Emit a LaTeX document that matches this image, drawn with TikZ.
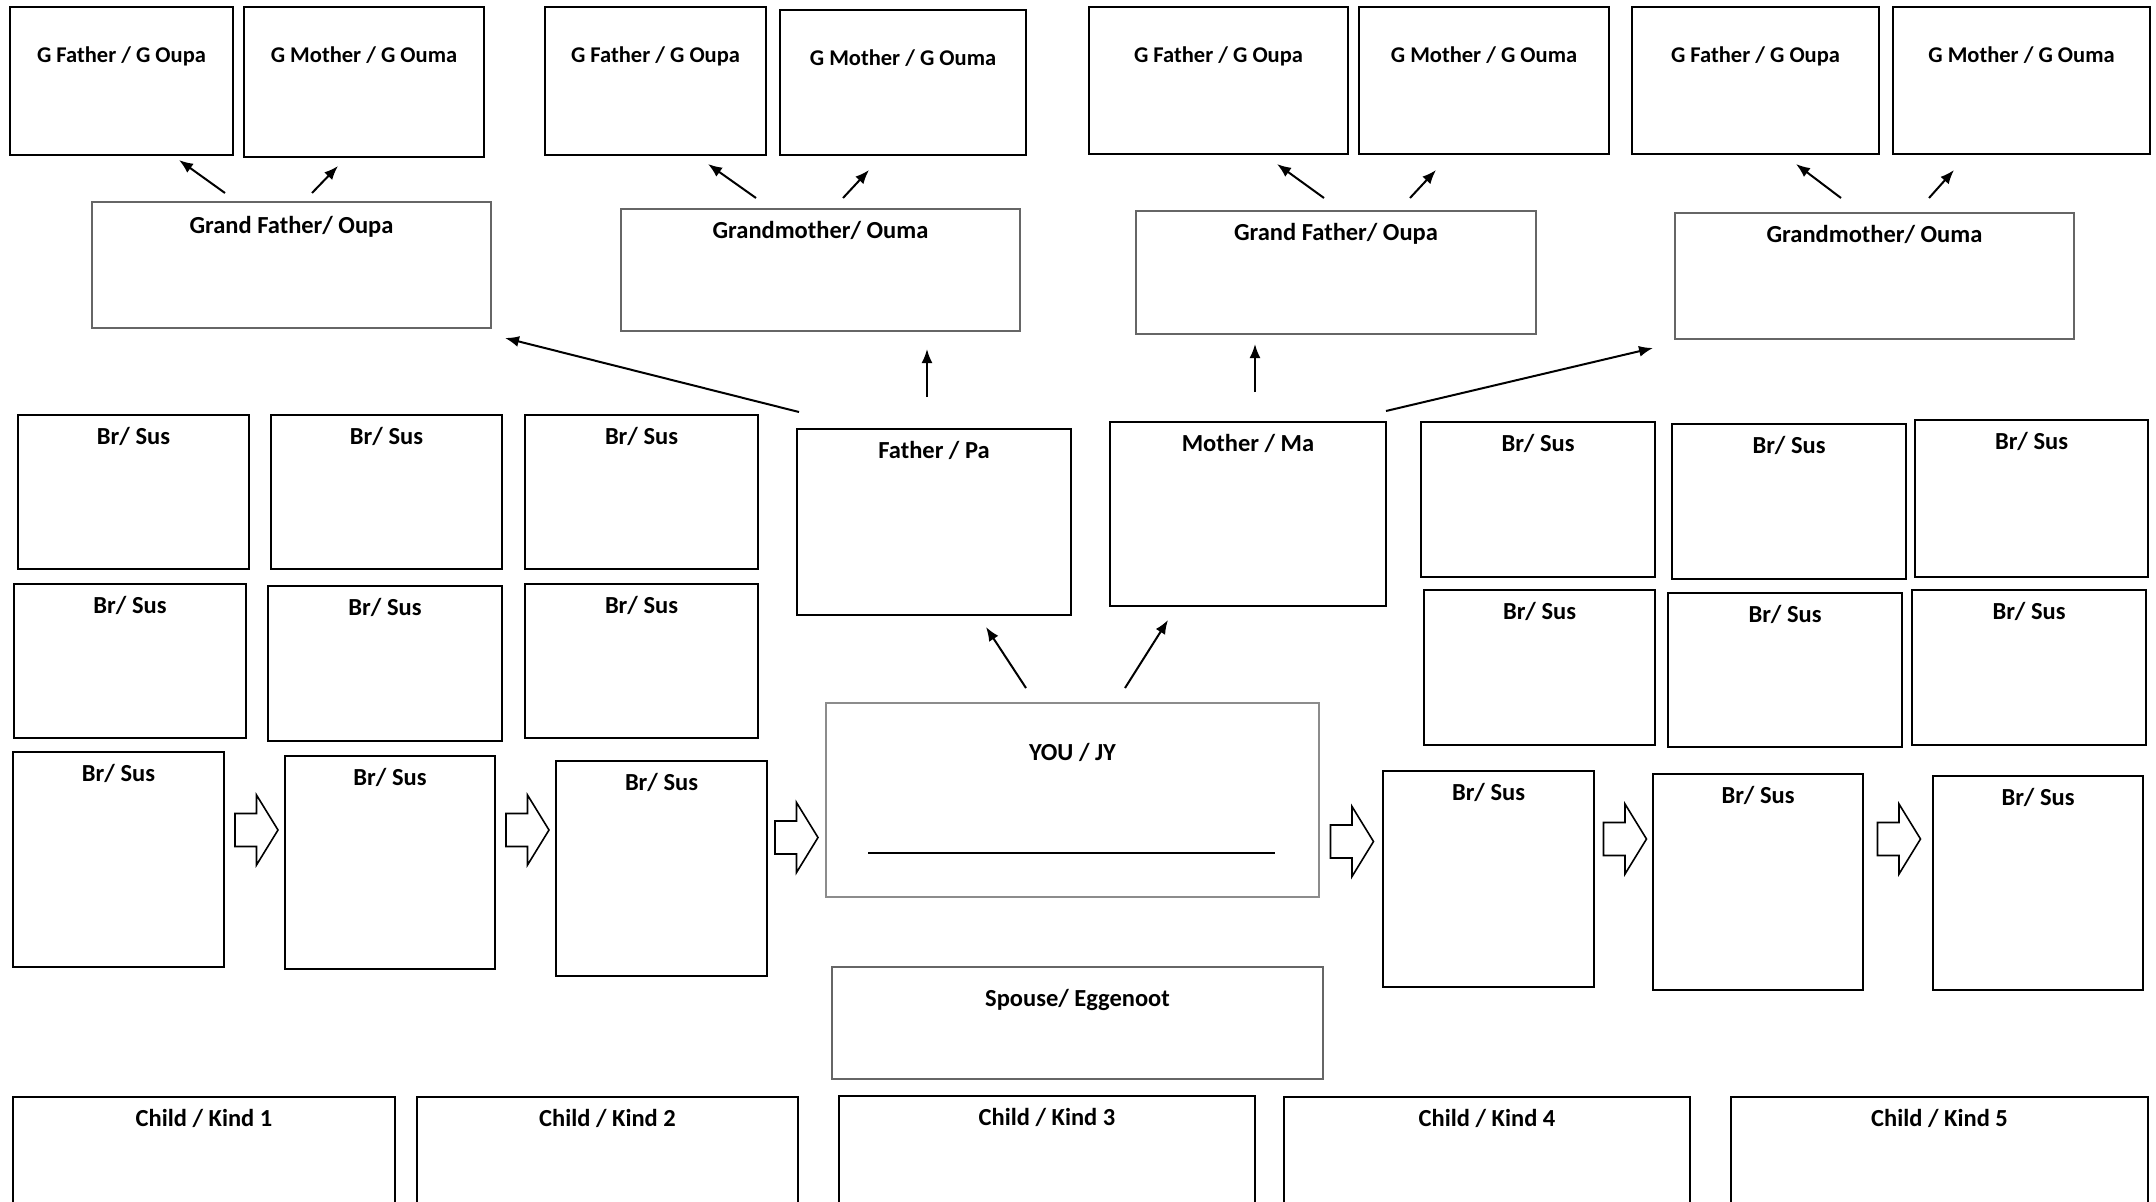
\documentclass[tikz,border=0pt]{standalone}
\usepackage{fontspec}
\setmainfont{Carlito}
\usetikzlibrary{arrows.meta}
\tikzset{
  box/.style={draw, line width=2pt, inner sep=0pt, outer sep=0pt, anchor=north west},
  gbox/.style={box, draw=black!60},
  sz/.style 2 args={minimum width=#1pt, minimum height=#2pt},
  ttl/.style={anchor=north, inner sep=0pt, yshift=#1, font=\fontsize{24.5}{29}\selectfont\bfseries},
  ttl/.default=-12.5pt,
  gttl/.style={ttl=-39.5pt, font=\fontsize{22.5}{27}\selectfont\bfseries},
  arr/.style={-{Latex[length=14pt,width=11pt]}, line width=2pt},
  barrow/.pic={\draw[line width=1.6pt, fill=white] (-21.5,-16.5) -- (0,-16.5) -- (0,-35) -- (21.5,0) -- (0,35) -- (0,16.5) -- (-21.5,16.5) -- cycle;}
}
\begin{document}
\begin{tikzpicture}[x=1pt, y=-1pt]
  \path[use as bounding box, fill=white] (0,0) rectangle (2156,1202);

  \node[box, line width=2.6pt, sz={223}{148}, label={[gttl]north:G Father / G Oupa}] (gg1) at (10,7) {};
  \node[box, line width=2.6pt, sz={240}{150}, label={[gttl]north:G Mother / G Ouma}] (gg2) at (244,7) {};
  \node[box, line width=2.6pt, sz={221}{148}, label={[gttl]north:G Father / G Oupa}] (gg3) at (545,7) {};
  \node[box, line width=2.6pt, sz={246}{145}, label={[gttl]north:G Mother / G Ouma}] (gg4) at (780,10) {};
  \node[box, line width=2.6pt, sz={259}{147}, label={[gttl]north:G Father / G Oupa}] (gg5) at (1089,7) {};
  \node[box, line width=2.6pt, sz={250}{147}, label={[gttl]north:G Mother / G Ouma}] (gg6) at (1359,7) {};
  \node[box, line width=2.6pt, sz={247}{147}, label={[gttl]north:G Father / G Oupa}] (gg7) at (1632,7) {};
  \node[box, line width=2.6pt, sz={257}{147}, label={[gttl]north:G Mother / G Ouma}] (gg8) at (1893,7) {};

  \node[gbox, sz={399}{126}, label={[ttl=-14pt]north:Grand Father/ Oupa}] (gp1) at (92,202) {};
  \node[gbox, sz={399}{122}, label={[ttl]north:Grandmother/ Ouma}] (gp2) at (621,209) {};
  \node[gbox, sz={400}{123}, label={[ttl]north:Grand Father/ Oupa}] (gp3) at (1136,211) {};
  \node[gbox, sz={399}{126}, label={[ttl]north:Grandmother/ Ouma}] (gp4) at (1675,213) {};

  \node[box, sz={274}{186}, label={[ttl]north:Father / Pa}] (fa) at (797,429) {};
  \node[box, sz={276}{184}, label={[ttl]north:Mother / Ma}] (mo) at (1110,422) {};
  \node[gbox, draw=black!45, line width=1.5pt, sz={493}{194}, label={[ttl=-40.5pt]north:YOU / JY}] (you) at (826,703) {};
  \node[gbox, sz={491}{112}, label={[ttl=-22.5pt]north:Spouse/ Eggenoot}] (sp) at (832,967) {};

  \node[box, sz={231}{154}, label={[ttl]north:Br/ Sus}] (l1) at (18,415) {};
  \node[box, sz={231}{154}, label={[ttl]north:Br/ Sus}] (l2) at (271,415) {};
  \node[box, sz={233}{154}, label={[ttl]north:Br/ Sus}] (l3) at (525,415) {};
  \node[box, sz={232}{154}, label={[ttl]north:Br/ Sus}] (l4) at (14,584) {};
  \node[box, sz={234}{155}, label={[ttl]north:Br/ Sus}] (l5) at (268,586) {};
  \node[box, sz={233}{154}, label={[ttl]north:Br/ Sus}] (l6) at (525,584) {};
  \node[box, sz={211}{215}, label={[ttl]north:Br/ Sus}] (l7) at (13,752) {};
  \node[box, sz={210}{213}, label={[ttl]north:Br/ Sus}] (l8) at (285,756) {};
  \node[box, sz={211}{215}, label={[ttl]north:Br/ Sus}] (l9) at (556,761) {};

  \node[box, sz={234}{155}, label={[ttl]north:Br/ Sus}] (r1) at (1421,422) {};
  \node[box, sz={234}{155}, label={[ttl]north:Br/ Sus}] (r2) at (1672,424) {};
  \node[box, sz={233}{157}, label={[ttl]north:Br/ Sus}] (r3) at (1915,420) {};
  \node[box, sz={231}{155}, label={[ttl]north:Br/ Sus}] (r4) at (1424,590) {};
  \node[box, sz={234}{154}, label={[ttl]north:Br/ Sus}] (r5) at (1668,593) {};
  \node[box, sz={234}{155}, label={[ttl]north:Br/ Sus}] (r6) at (1912,590) {};
  \node[box, sz={211}{216}, label={[ttl]north:Br/ Sus}] (r7) at (1383,771) {};
  \node[box, sz={210}{216}, label={[ttl]north:Br/ Sus}] (r8) at (1653,774) {};
  \node[box, sz={210}{214}, label={[ttl]north:Br/ Sus}] (r9) at (1933,776) {};

  \node[box, sz={382}{140}, label={[ttl]north:Child / Kind 1}] (k1) at (13,1097) {};
  \node[box, sz={381}{140}, label={[ttl]north:Child / Kind 2}] (k2) at (417,1097) {};
  \node[box, sz={416}{140}, label={[ttl]north:Child / Kind 3}] (k3) at (839,1096) {};
  \node[box, sz={406}{140}, label={[ttl]north:Child / Kind 4}] (k4) at (1284,1097) {};
  \node[box, sz={417}{140}, label={[ttl]north:Child / Kind 5}] (k5) at (1731,1097) {};

  \draw[line width=2pt] ([shift={(42,-44)}]you.south west) -- ([shift={(-44,-44)}]you.south east);

  \begin{scope}[arr]
    \draw ([shift={(-66.5,-9)}]gp1.north) -- ([shift={(57.5,5)}]gg1.south);
    \draw ([shift={(20.5,-9)}]gp1.north) -- ([shift={(-26,9)}]gg2.south);
    \draw ([shift={(-64.5,-11)}]gp2.north) -- ([shift={(52.5,9)}]gg3.south);
    \draw ([shift={(22.5,-11)}]gp2.north) -- ([shift={(-34,15)}]gg4.south);
    \draw ([shift={(-12,-13)}]gp3.north) -- ([shift={(58.5,10)}]gg5.south);
    \draw ([shift={(74,-13)}]gp3.north) -- ([shift={(-48,16)}]gg6.south);
    \draw ([shift={(-33.5,-15)}]gp4.north) -- ([shift={(40.5,10)}]gg7.south);
    \draw ([shift={(54.5,-15)}]gp4.north) -- ([shift={(-67.5,16)}]gg8.south);
    \draw ([shift={(2,-17)}]fa.north west) -- ([shift={(14,10)}]gp1.south east);
    \draw ([shift={(-7,-32)}]fa.north) -- ([shift={(106.5,18)}]gp2.south);
    \draw ([shift={(7,-30)}]mo.north) -- ([shift={(-81,10)}]gp3.south);
    \draw ([shift={(0,-11)}]mo.north east) -- ([shift={(-22,9)}]gp4.south west);
    \draw ([shift={(-46.5,-15)}]you.north) -- ([shift={(52,12)}]fa.south);
    \draw ([shift={(52.5,-15)}]you.north) -- ([shift={(-80,14)}]mo.south);
  \end{scope}

  \pic at (256.5,830) {barrow};
  \pic at (527.5,830) {barrow};
  \pic at (796.5,837.5) {barrow};
  \pic at (1352,841.5) {barrow};
  \pic at (1625,839) {barrow};
  \pic at (1899,839) {barrow};
\end{tikzpicture}
\end{document}
